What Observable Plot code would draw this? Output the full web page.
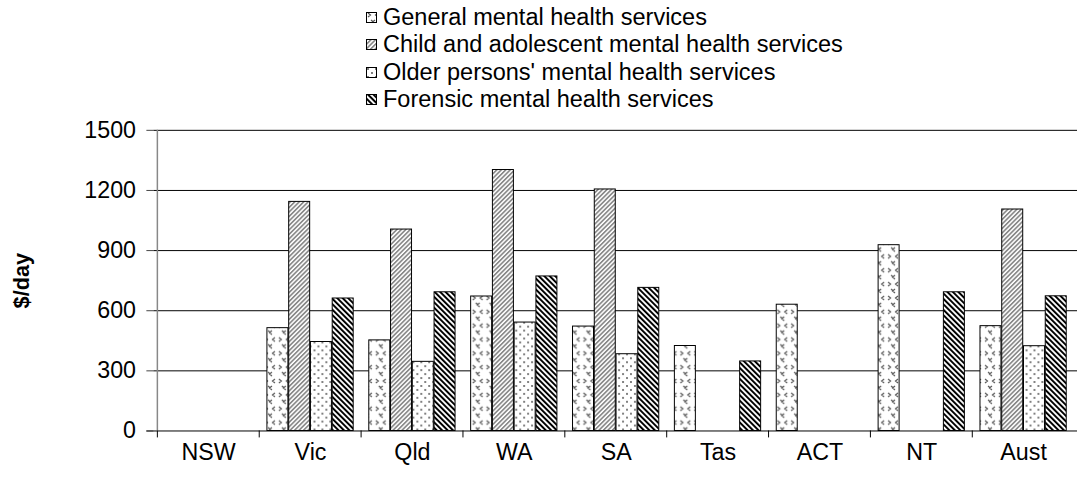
<!DOCTYPE html>
<html><head><meta charset="utf-8">
<script src="https://cdn.jsdelivr.net/npm/d3@7"></script>
<script src="https://cdn.jsdelivr.net/npm/@observablehq/plot@0.6"></script>
<style>
html,body{margin:0;padding:0;background:#fff;}
body{width:1078px;height:485px;overflow:hidden;font-family:Arial,"Liberation Sans",sans-serif;}
#legend{position:relative;height:115px;}
.row{position:absolute;left:366px;display:flex;align-items:center;height:28px;font-size:23.5px;color:#000;white-space:nowrap;}
.row svg{margin-right:6px;}
#chart svg{display:block;}
</style></head><body>
<svg width="0" height="0" style="position:absolute">
<defs>
<pattern id="pGen" patternUnits="userSpaceOnUse" width="14" height="14">
<rect width="14" height="14" fill="#fff"/>
<path d="M2,1 L4.5,3 L2,5 M12,1 L9.5,3 L12,5 M9,8 L6.5,10 L9,12 M5,8 L7.5,10" stroke="#555" fill="none" stroke-width="1.2"/>
</pattern>
<pattern id="pChild" patternUnits="userSpaceOnUse" width="3.2" height="6" patternTransform="rotate(45)">
<rect width="3.2" height="6" fill="#fff"/><rect width="1.7" height="6" fill="#8a8a8a"/>
</pattern>
<pattern id="pOld" patternUnits="userSpaceOnUse" width="8" height="8">
<rect width="8" height="8" fill="#fff"/><circle cx="2" cy="2" r="0.9" fill="#444"/><circle cx="6" cy="6" r="0.9" fill="#444"/>
</pattern>
<pattern id="pFor" patternUnits="userSpaceOnUse" width="3.9" height="6" patternTransform="rotate(-45)">
<rect width="3.9" height="6" fill="#fff"/><rect width="2" height="6" fill="#000"/>
</pattern>
</defs>
</svg>
<div id="legend"></div>
<div id="chart"></div>
<script>
// ---- data ----
const categories = ["NSW", "Vic", "Qld", "WA", "SA", "Tas", "ACT", "NT", "Aust"];
const seriesNames = [
  "General mental health services",
  "Child and adolescent mental health services",
  "Older persons' mental health services",
  "Forensic mental health services"
];
const generalValues  = [null, 513, 452, 671, 521, 424, 630, 927, 523];
const childValues    = [null, 1143, 1005, 1302, 1205, null, null, null, 1105];
const olderValues    = [null, 444, 345, 541, 383, null, null, null, 423];
const forensicValues = [null, 661, 692, 771, 714, 347, null, 692, 672];
const yTicks = [0, 300, 600, 900, 1200, 1500];
const yLabel = "$/day";

// ---- build ----
const seriesValues = [generalValues, childValues, olderValues, forensicValues];
const patternIds = ["pGen", "pChild", "pOld", "pFor"];
const rows = seriesValues.map((vals, s) =>
  categories.map((c, i) => ({category: c, series: seriesNames[s], value: vals[i]}))
    .filter(d => d.value != null));

// legend
const legend = document.getElementById("legend");
seriesNames.forEach((name, i) => {
  const row = document.createElement("div");
  row.className = "row";
  row.style.top = (3 + i * 27.6) + "px";
  row.innerHTML = `<svg width="11" height="11"><rect x="0.5" y="0.5" width="10" height="10" fill="url(#${patternIds[i]})" stroke="#000" stroke-width="1"/></svg><span></span>`;
  row.querySelector("span").textContent = name;
  legend.appendChild(row);
});

const W = 1090, ML = 155, MR = 1;
const band = (W - ML - MR) / categories.length;
const bw = 22;
const pad = (band - 4 * bw) / 2;
const font = "Arial, 'Liberation Sans', sans-serif";

const chart = Plot.plot({
  width: W, height: 370,
  marginTop: 15, marginBottom: 51, marginLeft: ML, marginRight: MR,
  style: {fontFamily: font, fontSize: "23px", background: "#fff", color: "#000", overflow: "visible"},
  x: {domain: categories, padding: 0, axis: null},
  y: {domain: [0, 1500], axis: null},
  marks: [
    Plot.ruleY(yTicks.filter(d => d > 0), {stroke: "#000", strokeWidth: 1, strokeOpacity: 1}),
    ...rows.map((data, i) => Plot.barY(data, {
      x: "category", y: "value",
      fill: `url(#${patternIds[i]})`,
      stroke: "#000", strokeWidth: 1,
      insetLeft: pad + i * bw, insetRight: band - pad - (i + 1) * bw
    })),
    Plot.ruleY([0], {stroke: "#000", strokeWidth: 1, insetLeft: -7}),
    Plot.ruleX([categories[0]], {dx: -band / 2, y1: 0, y2: 1500, stroke: "#888", strokeWidth: 1.5}),
    Plot.axisY({ticks: yTicks, label: null, tickSize: 7, tickPadding: 11, stroke: "#444", fontSize: 23.5, tickFormat: d => String(d)}),
    Plot.axisX({label: null, tickSize: 7, dx: -band / 2, tickFormat: () => "", stroke: "#000"}),
    Plot.axisX({label: null, tickSize: 0, tickPadding: 13, fontSize: 23.5}),
    Plot.text([yLabel], {frameAnchor: "left", dx: -133, rotate: -90, fontWeight: "bold", fontSize: 22, textAnchor: "middle"})
  ]
});
document.getElementById("chart").appendChild(chart);
</script>
</body></html>
